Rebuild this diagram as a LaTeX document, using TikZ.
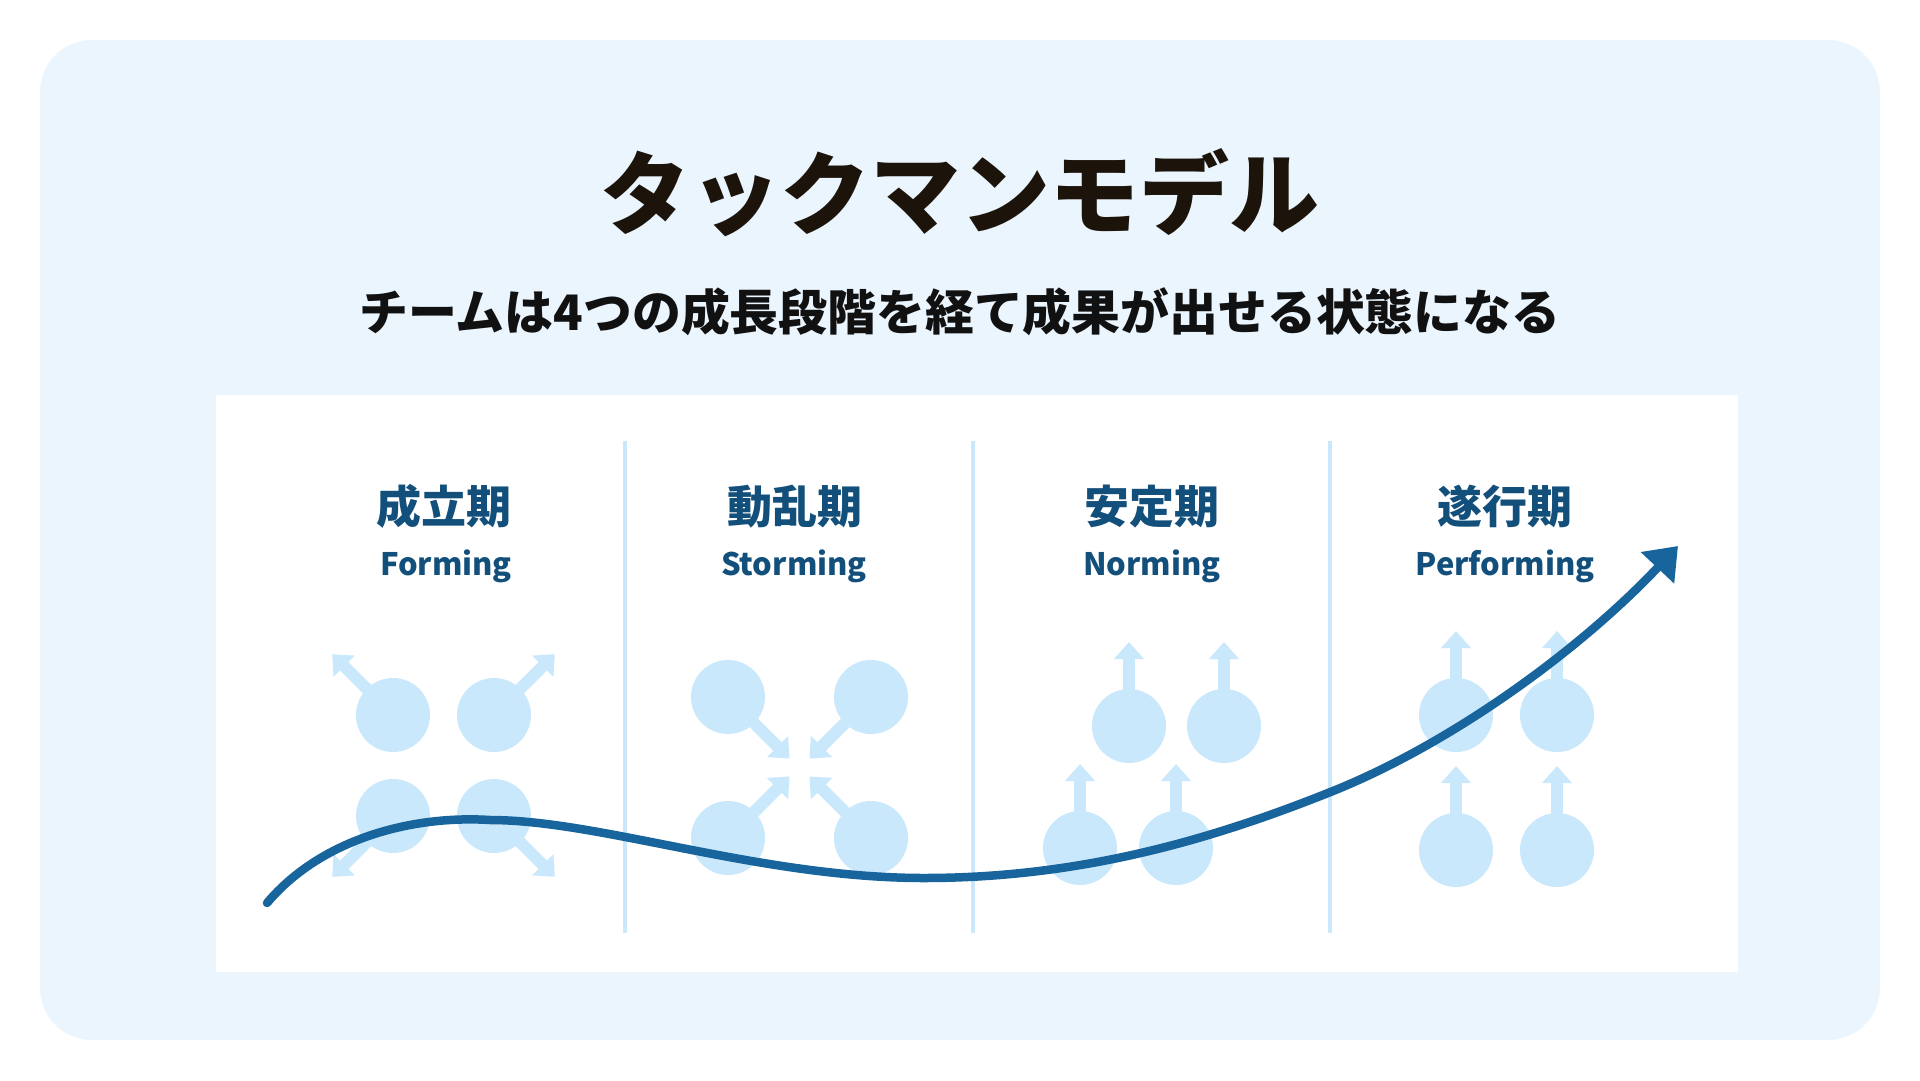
\documentclass[tikz,border=0pt]{standalone}
\usepackage{fontspec}
\setmainfont{Noto Sans CJK JP}
\usetikzlibrary{calc,arrows.meta}
\definecolor{panel}{HTML}{EBF5FE}
\definecolor{member}{HTML}{C9E8FC}
\definecolor{growth}{HTML}{18659D}
\definecolor{stage}{HTML}{134F7B}
\definecolor{heading}{HTML}{1C140A}
\definecolor{lead}{HTML}{111111}

\begin{document}
\begin{tikzpicture}[x=0.1mm, y=0.1mm,
  push/.style={member, line width=1.2mm, -{Triangle[length=1.7mm,width=2.9mm]}},
  stagename/.style={text=stage, anchor=base, font=\fontsize{12.8}{15}\selectfont\bfseries},
  stageen/.style={text=stage, anchor=base, font=\fontsize{8.8}{11}\selectfont\bfseries}]
\fill[white] (0,0) rectangle (1920,1080);
\fill[panel, rounded corners=5.2mm] (40,40) rectangle (1880,1040);
\fill[white] (216,108) rectangle (1738,685);
\node[text=heading, anchor=base, font=\fontsize{25.6}{30}\selectfont\bfseries] (title) at (960,853) {タックマンモデル};
\node[text=lead, anchor=base, font=\fontsize{13.9}{17}\selectfont\bfseries] (subtitle) at (960,750) {チームは4つの成長段階を経て成果が出せる状態になる};
% dividers
\draw[member, line width=0.4mm] (625,147) -- (625,639);
\draw[member, line width=0.4mm] (973,147) -- (973,639);
\draw[member, line width=0.4mm] (1330,147) -- (1330,639);
% stage titles
\node[stagename] (form) at (444,557) {成立期};
\node[stageen] (formen) at (446,505) {Forming};
\node[stagename] (storm) at (795,557) {動乱期};
\node[stageen] (stormen) at (794,505) {Storming};
\node[stagename] (norm) at (1152,557) {安定期};
\node[stageen] (normen) at (1152,505) {Norming};
\node[stagename] (perform) at (1505,557) {遂行期};
\node[stageen] (performen) at (1505,505) {Performing};
% forming
\coordinate (form0) at (393,365);
\coordinate (form1) at (494,365);
\coordinate (form2) at (393,264);
\coordinate (form3) at (494,264);
\draw[push] (form0) -- ($(form0)+(135:86)$);
\draw[push] (form1) -- ($(form1)+(45:86)$);
\draw[push] (form2) -- ($(form2)+(225:86)$);
\draw[push] (form3) -- ($(form3)+(-45:86)$);
\fill[member] (form0) circle (37);
\fill[member] (form1) circle (37);
\fill[member] (form2) circle (37);
\fill[member] (form3) circle (37);
% storming
\coordinate (storm0) at (728,383);
\coordinate (storm1) at (871,383);
\coordinate (storm2) at (728,242);
\coordinate (storm3) at (871,242);
\draw[push] (storm0) -- ($(storm0)+(-45:87)$);
\draw[push] (storm1) -- ($(storm1)+(225:87)$);
\draw[push] (storm2) -- ($(storm2)+(45:87)$);
\draw[push] (storm3) -- ($(storm3)+(135:87)$);
\fill[member] (storm0) circle (37);
\fill[member] (storm1) circle (37);
\fill[member] (storm2) circle (37);
\fill[member] (storm3) circle (37);
% norming
\coordinate (norm0) at (1129,354);
\coordinate (norm1) at (1224,354);
\coordinate (norm2) at (1080,232);
\coordinate (norm3) at (1176,232);
\draw[push] (norm0) -- ($(norm0)+(90:84)$);
\draw[push] (norm1) -- ($(norm1)+(90:84)$);
\draw[push] (norm2) -- ($(norm2)+(90:84)$);
\draw[push] (norm3) -- ($(norm3)+(90:84)$);
\fill[member] (norm0) circle (37);
\fill[member] (norm1) circle (37);
\fill[member] (norm2) circle (37);
\fill[member] (norm3) circle (37);
% performing
\coordinate (perform0) at (1456,365);
\coordinate (perform1) at (1557,365);
\coordinate (perform2) at (1456,230);
\coordinate (perform3) at (1557,230);
\draw[push] (perform0) -- ($(perform0)+(90:84)$);
\draw[push] (perform1) -- ($(perform1)+(90:84)$);
\draw[push] (perform2) -- ($(perform2)+(90:84)$);
\draw[push] (perform3) -- ($(perform3)+(90:84)$);
\fill[member] (perform0) circle (37);
\fill[member] (perform1) circle (37);
\fill[member] (perform2) circle (37);
\fill[member] (perform3) circle (37);
% growth curve
\coordinate (growth0) at (267,177);
\coordinate (growth1) at (1678,534);
\draw[growth, line width=0.85mm, line cap=round, -{Triangle[length=3mm,width=4.4mm]}] (growth0)
  .. controls (320,240) and (410,265) .. (490,260)
  .. controls (600,260) and (760,202) .. (924,202)
  .. controls (1080,202) and (1210,240) .. (1328,287)
  .. controls (1450,335) and (1580,430) .. (growth1);
\end{tikzpicture}
\end{document}
